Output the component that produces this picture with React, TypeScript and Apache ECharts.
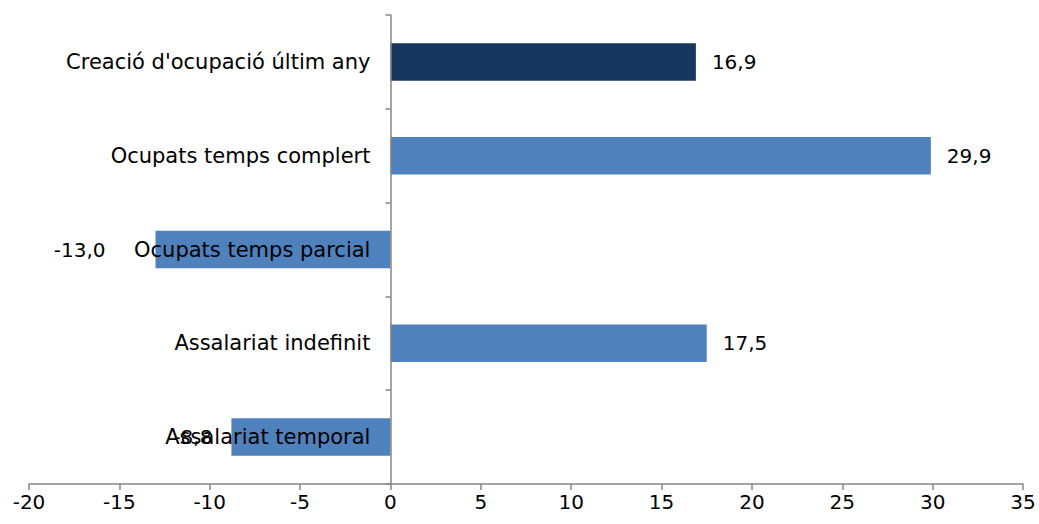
import React, { useEffect, useRef } from "react";
import * as echarts from "echarts";

const categories = [
  "Creació d'ocupació últim any",
  "Ocupats temps complert",
  "Ocupats temps parcial",
  "Assalariat indefinit",
  "Assalariat temporal",
];
const values = [16.9, 29.9, -13.0, 17.5, -8.8];
const xTicks = { min: -20, max: 35, interval: 5 };

const DARK = "#17375E";
const BLUE = "#4F81BD";
const FONT = "DejaVu Sans";

export default function App() {
  const ref = useRef<HTMLDivElement>(null);
  useEffect(() => {
    if (!ref.current) return;
    const chart = echarts.init(ref.current, null, { renderer: "svg" });
    const labelDist = [16, 16, 50, 16, 19];
    const W = 1039;
    const gridLeft = 29;
    const gridRight = 16;
    const plotW = W - gridLeft - gridRight;
    const zeroOffset = ((0 - xTicks.min) / (xTicks.max - xTicks.min)) * plotW;
    chart.setOption({
      animation: false,
      grid: { left: gridLeft, right: gridRight, top: 15, bottom: 40, containLabel: false, outerBoundsMode: "none" },
      xAxis: {
        type: "value",
        min: xTicks.min,
        max: xTicks.max,
        interval: xTicks.interval,
        splitLine: { show: false },
        axisLine: { show: true, lineStyle: { color: "#868686", width: 1.5 } },
        axisTick: { show: true, length: 6, lineStyle: { color: "#868686", width: 1.5 } },
        axisLabel: { color: "#000", fontSize: 20, fontFamily: FONT, margin: 8 },
      },
      yAxis: {
        type: "category",
        data: categories,
        inverse: true,
        z: 5,
        offset: -zeroOffset,
        axisLine: { show: true, onZero: false, lineStyle: { color: "#868686", width: 1.5 } },
        axisTick: { show: true, length: 5, lineStyle: { color: "#868686", width: 1.5 } },
        axisLabel: { color: "#000", fontSize: 21, fontFamily: FONT, margin: 20 },
      },
      series: [
        {
          type: "bar",
          barWidth: "40%",
          data: values.map((v, i) => ({
            value: v,
            itemStyle: { color: i === 0 ? DARK : BLUE },
            label: {
              show: true,
              position: v >= 0 ? "right" : "left",
              distance: labelDist[i],
              formatter: () => v.toFixed(1).replace(".", ","),
              color: "#000",
              fontSize: 20,
              fontFamily: FONT,
            },
          })),
        },
      ],
    });
    return () => chart.dispose();
  }, []);
  return (
    <div
      ref={ref}
      style={{ position: "fixed", left: 0, top: 0, width: 1039, height: 524, background: "#fff" }}
    />
  );
}
